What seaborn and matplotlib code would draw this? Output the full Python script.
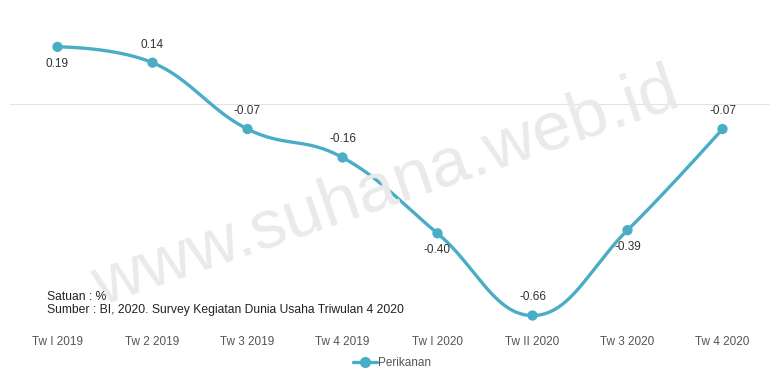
import numpy as np
import pandas as pd
import matplotlib
matplotlib.use("Agg")
import matplotlib.pyplot as plt
import seaborn as sns
from matplotlib.lines import Line2D

# data
quarters = ["Tw I 2019", "Tw 2 2019", "Tw 3 2019", "Tw 4 2019",
            "Tw I 2020", "Tw II 2020", "Tw 3 2020", "Tw 4 2020"]
perikanan = [0.19, 0.14, -0.07, -0.16, -0.40, -0.66, -0.39, -0.07]
label_below = [True, False, False, False, True, False, True, False]

LINE_COLOR = "#4aadc6"


def spline_curve(xs, ys, smoothing=1.5, n=40):
    # bezier spline like the original chart tool draws
    xs = np.asarray(xs, float)
    ys = np.asarray(ys, float)
    m = len(xs)
    lc = [(xs[i], ys[i]) for i in range(m)]
    rc = [(xs[i], ys[i]) for i in range(m)]
    d = smoothing + 1
    for i in range(1, m - 1):
        px, py = xs[i], ys[i]
        lx, ly = xs[i - 1], ys[i - 1]
        nx, ny = xs[i + 1], ys[i + 1]
        lcx = (smoothing * px + lx) / d
        lcy = (smoothing * py + ly) / d
        rcx = (smoothing * px + nx) / d
        rcy = (smoothing * py + ny) / d
        corr = ((rcy - lcy) * (rcx - px)) / (rcx - lcx) + py - rcy
        lcy += corr
        rcy += corr
        if lcy > ly and lcy > py:
            lcy = max(ly, py)
            rcy = 2 * py - lcy
        elif lcy < ly and lcy < py:
            lcy = min(ly, py)
            rcy = 2 * py - lcy
        if rcy > ny and rcy > py:
            rcy = max(ny, py)
            lcy = 2 * py - rcy
        elif rcy < ny and rcy < py:
            rcy = min(ny, py)
            lcy = 2 * py - rcy
        lc[i] = (lcx, lcy)
        rc[i] = (rcx, rcy)
    t = np.linspace(0, 1, n)
    cx, cy = [], []
    for i in range(m - 1):
        p0 = np.array([xs[i], ys[i]])
        p1 = np.array(rc[i])
        p2 = np.array(lc[i + 1])
        p3 = np.array([xs[i + 1], ys[i + 1]])
        pts = ((1 - t) ** 3)[:, None] * p0 + (3 * (1 - t) ** 2 * t)[:, None] * p1 \
            + (3 * (1 - t) * t ** 2)[:, None] * p2 + (t ** 3)[:, None] * p3
        cx.extend(pts[:, 0])
        cy.extend(pts[:, 1])
    return np.array(cx), np.array(cy)


sns.set_theme(style="white")
plt.rcParams["font.family"] = ["Liberation Sans", "DejaVu Sans"]

fig = plt.figure(figsize=(7.8, 3.77), dpi=100)
ax = fig.add_axes([10 / 780, 1 - 325 / 377, 760 / 780, 305 / 377])

# watermark
fig.text(0.495, 0.50, "www.suhana.web.id", fontsize=50, color="#eaeaea",
         rotation=19, ha="center", va="center", zorder=0)

ax.axhline(0.01, color="#e2e2e2", lw=0.8, zorder=1)

xi = np.arange(len(quarters))
cx, cy = spline_curve(xi, perikanan)
curve = pd.DataFrame({"x": cx, "y": cy})
pts = pd.DataFrame({"x": xi, "y": perikanan})

sns.lineplot(data=curve, x="x", y="y", ax=ax, color=LINE_COLOR, lw=2.4,
             sort=False, zorder=3)
sns.scatterplot(data=pts, x="x", y="y", ax=ax, color=LINE_COLOR, s=55,
                edgecolor="none", zorder=4)

for x, v, below in zip(xi, perikanan, label_below):
    off = -12 if below else 13
    ax.annotate(f"{v:.2f}", (x, v), xytext=(0, off), textcoords="offset points",
                ha="center", va="center", fontsize=8.5, color="#333333")

ax.set_xlim(-0.5, 7.5)
ax.set_ylim(-0.69, 0.275)
ax.set_xticks(xi)
ax.set_xticklabels(quarters)
ax.set_yticks([])
ax.tick_params(axis="x", length=0, pad=8, labelsize=8.5, labelcolor="#555555")
ax.set_xlabel("")
ax.set_ylabel("")
for s in ax.spines.values():
    s.set_visible(False)
ax.patch.set_alpha(0)

fig.text(47 / 780, 1 - 297 / 377, "Satuan : %", fontsize=8.7, color="#222222",
         va="center", ha="left")
fig.text(47 / 780, 1 - 310 / 377,
         "Sumber : BI, 2020. Survey Kegiatan Dunia Usaha Triwulan 4 2020",
         fontsize=8.7, color="#222222", va="center", ha="left")

handle = Line2D([], [], color=LINE_COLOR, lw=2.4, marker="o", markersize=7)
fig.legend([handle], ["Perikanan"], loc="center", bbox_to_anchor=(392 / 780, 1 - 363 / 377),
           frameon=False, fontsize=8.5, handlelength=2.0, handletextpad=0.1,
           labelcolor="#555555")

fig.savefig("out.png", dpi=100)
